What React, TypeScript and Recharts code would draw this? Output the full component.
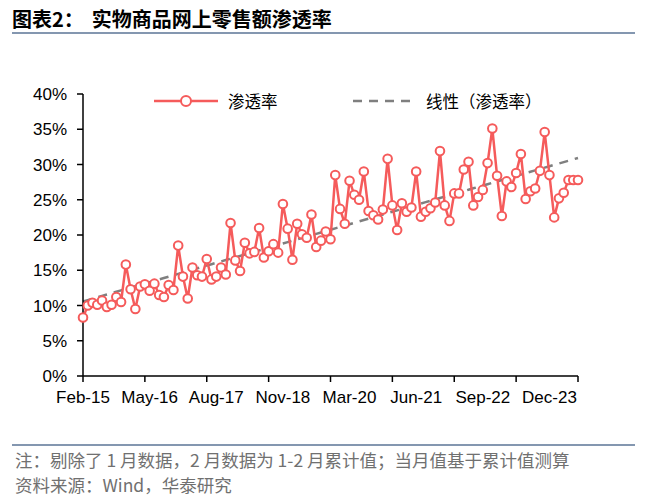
import { LineChart, Line, XAxis, YAxis } from 'recharts';

// 网上零售额渗透率 (%)，2015-02 起，剔除 1 月
const penetration = [
  8.3, 10.0, 10.4, 10.1, 10.7, 9.8, 10.1, 11.2, 10.5, 15.8, 12.3,
  9.5, 12.7, 13.0, 12.1, 13.1, 11.5, 11.2, 12.9, 12.2, 18.5, 14.1,
  11.0, 15.4, 14.3, 14.1, 16.6, 13.7, 14.1, 15.4, 14.4, 21.7, 16.4,
  14.9, 18.9, 17.4, 17.6, 21.0, 16.8, 17.7, 18.7, 17.5, 24.4, 20.9,
  16.5, 21.6, 20.1, 19.6, 22.9, 18.3, 19.2, 20.5, 19.4, 28.5, 23.7,
  21.6, 27.7, 25.7, 25.0, 29.0, 23.4, 22.8, 22.2, 23.6, 30.8, 24.2,
  20.7, 24.5, 23.3, 23.9, 29.0, 22.6, 23.3, 23.8, 24.6, 31.9, 24.2,
  22.0, 25.9, 25.9, 29.3, 30.4, 24.2, 25.4, 26.4, 30.2, 35.1, 28.4,
  22.7, 27.6, 26.8, 28.8, 31.5, 25.1, 26.2, 26.6, 29.1, 34.6, 28.5,
  22.5, 25.2, 26.0, 27.8, 27.8, 27.8,
];

const xLabelIdx = [0, 14, 28, 42, 56, 70, 84, 98];
const xLabels = ['Feb-15', 'May-16', 'Aug-17', 'Nov-18', 'Mar-20', 'Jun-21', 'Sep-22', 'Dec-23'];
const xMarkIdx = [0, 13, 26, 39, 52, 65, 78, 91, 104];
const yTicks = [0, 5, 10, 15, 20, 25, 30, 35, 40];

const RED = '#F55B5B';
const GREY = '#7F7F7F';
const AXIS_FONT = '"Liberation Sans", Arial, sans-serif';
const CJK_FONT = '"Noto Sans CJK SC", sans-serif';

// linear trend (least squares, like Excel's 线性 trendline)
const n = penetration.length;
const meanX = (n - 1) / 2;
const meanY = penetration.reduce((a, b) => a + b, 0) / n;
let sxy = 0;
let sxx = 0;
penetration.forEach((v, i) => {
  sxy += (i - meanX) * (v - meanY);
  sxx += (i - meanX) * (i - meanX);
});
const slope = sxy / sxx;
const intercept = meanY - slope * meanX;

const data = penetration.map((v, i) => ({ i, v, trend: intercept + slope * i }));
const allTicks = Array.from(new Set([...xLabelIdx, ...xMarkIdx])).sort((a, b) => a - b);

function XTick(props: any) {
  const { x, y, payload } = props;
  const idx = payload.value;
  const li = xLabelIdx.indexOf(idx);
  return (
    <g>
      {xMarkIdx.includes(idx) && (
        <line x1={x} y1={y} x2={x} y2={y + 6} stroke="#000" strokeWidth={1.5} />
      )}
      {li >= 0 && (
        <text x={x} y={y + 27} textAnchor="middle" fontSize={17} fontFamily={AXIS_FONT} fill="#000">
          {xLabels[li]}
        </text>
      )}
    </g>
  );
}

export default function App() {
  return (
    <div style={{ position: 'absolute', left: 0, top: 0, width: 648, height: 500, background: '#fff' }}>
      <div
        style={{
          position: 'absolute', left: 12, top: 6, fontFamily: CJK_FONT, fontWeight: 700,
          fontSize: 20, lineHeight: '25px', color: '#000', whiteSpace: 'nowrap',
        }}
      >
        图表2：<span style={{ marginLeft: 8 }}>实物商品网上零售额渗透率</span>
      </div>
      <div style={{ position: 'absolute', left: 12, top: 32, width: 623, height: 2, background: '#8497B0' }} />

      <LineChart width={648} height={420} data={data} margin={{ top: 94, right: 70, left: 0, bottom: 14 }}>
        <XAxis
          dataKey="i"
          type="number"
          domain={[0, 104]}
          ticks={allTicks}
          interval={0}
          tickSize={0}
          tickMargin={0}
          tickLine={false}
          tick={<XTick />}
          axisLine={{ stroke: '#000', strokeWidth: 1.5 }}
          height={30}
        />
        <YAxis
          domain={[0, 40]}
          ticks={yTicks}
          interval={0}
          width={83}
          tickSize={6}
          tickMargin={10}
          tickFormatter={(v) => `${v}%`}
          tick={{ fontSize: 17, fill: '#000', fontFamily: AXIS_FONT }}
          tickLine={{ stroke: '#000', strokeWidth: 1.5 }}
          axisLine={{ stroke: '#000', strokeWidth: 1.5 }}
        />
        <Line
          dataKey="trend"
          stroke={GREY}
          strokeWidth={2.5}
          strokeDasharray="9 7"
          dot={false}
          isAnimationActive={false}
        />
        <Line
          dataKey="v"
          stroke={RED}
          strokeWidth={2.5}
          dot={{ r: 4.3, fill: '#fff', stroke: RED, strokeWidth: 2 }}
          isAnimationActive={false}
        />
      </LineChart>

      {/* legend */}
      <svg style={{ position: 'absolute', left: 152, top: 92 }} width={68} height={18}>
        <line x1={2} y1={9} x2={66} y2={9} stroke={RED} strokeWidth={2.5} />
        <circle cx={34} cy={9} r={5} fill="#fff" stroke={RED} strokeWidth={2} />
      </svg>
      <div style={{ position: 'absolute', left: 228, top: 91, fontFamily: CJK_FONT, fontSize: 16.5, lineHeight: '20px', color: '#000' }}>
        渗透率
      </div>
      <svg style={{ position: 'absolute', left: 352, top: 92 }} width={66} height={18}>
        <line x1={1} y1={9} x2={64} y2={9} stroke={GREY} strokeWidth={2.5} strokeDasharray="9 7" />
      </svg>
      <div style={{ position: 'absolute', left: 426, top: 91, fontFamily: CJK_FONT, fontSize: 16.5, lineHeight: '20px', color: '#000' }}>
        线性（渗透率）
      </div>

      <div style={{ position: 'absolute', left: 12, top: 444, width: 623, height: 2, background: '#8497B0' }} />
      <div
        style={{
          position: 'absolute', left: 15, top: 447, fontFamily: CJK_FONT, fontSize: 17.5,
          lineHeight: '25px', color: '#707070', whiteSpace: 'nowrap',
        }}
      >
        <div>注：剔除了 1 月数据，2 月数据为 1-2 月累计值；当月值基于累计值测算</div>
        <div>资料来源：Wind，华泰研究</div>
      </div>
    </div>
  );
}
